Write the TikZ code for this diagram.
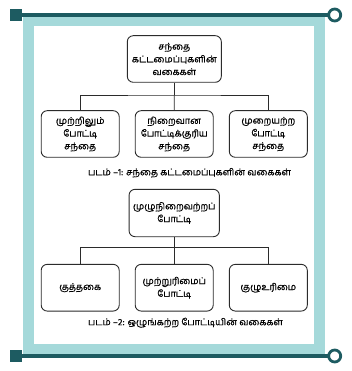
\documentclass[tikz,border=0pt]{standalone}
\usepackage{fontspec}
\newfontfamily\tamil[Script=Tamil, FakeBold=0.6]{Hind Madurai}
\definecolor{frameteal}{HTML}{A5D9DA}
\definecolor{darkteal}{HTML}{1D5B61}
\definecolor{boxline}{HTML}{2B2B2B}
\begin{document}
\begin{tikzpicture}[x=1pt,y=-1pt,
  box/.style={draw=boxline, line width=0.9pt, rounded corners=6pt, fill=white,
    align=center, inner sep=1pt, font=\tamil\fontsize{9.2}{12.7}\selectfont, text=black},
  capt/.style={font=\tamil\fontsize{9.2}{10}\selectfont, text=black, inner sep=0pt},
  conn/.style={draw=boxline, line width=0.7pt},
  rule/.style={draw=darkteal, line width=3.4pt},
  ring/.style={draw=darkteal, line width=2.8pt, fill=white}]
\useasboundingbox (0,0) rectangle (351,371);
% frame
\fill[frameteal] (23,17) rectangle (325,354);
\fill[white] (34,26) rectangle (314,344);
% top and bottom rules
\draw[rule] (16,15) -- (330,15);
\fill[darkteal] (10,9) rectangle (22,21);
\draw[ring] (334.7,15) circle (6);
\draw[rule] (16,356) -- (330,356);
\fill[darkteal] (10,350) rectangle (22,362);
\draw[ring] (334.7,356) circle (6);
% chart 1
\node[box, minimum width=94pt, minimum height=46.6pt] (t1) at (174.3,59) {சந்தை\\கட்டமைப்புகளின்\\வகைகள்};
\node[box, minimum width=78pt, minimum height=46.6pt] (a1) at (80.2,134) {முற்றிலும்\\போட்டி\\சந்தை};
\node[box, minimum width=78pt, minimum height=46.6pt] (a2) at (174.2,134) {நிறைவான\\போட்டிக்குரிய\\சந்தை};
\node[box, minimum width=78pt, minimum height=46.6pt] (a3) at (268.3,134) {முறையற்ற\\போட்டி\\சந்தை};
\node[capt] (c1) at (189.5,172.7) {படம் –1: சந்தை கட்டமைப்புகளின் வகைகள்};
\coordinate (j1) at (174.3,95);
\draw[conn] (t1.south) -- (j1);
\draw[conn] (a1.north) |- (j1) -| (a3.north);
\draw[conn] (j1) -- (a2.north);
% chart 2
\node[box, minimum width=90.3pt, minimum height=47.4pt] (t2) at (174.2,213) {முழுநிறைவற்றப்\\போட்டி};
\node[box, minimum width=78pt, minimum height=46.7pt] (b1) at (80.2,287.7) {குத்தகை};
\node[box, minimum width=78pt, minimum height=46.7pt] (b2) at (174.2,287.7) {முற்றுரிமைப்\\போட்டி};
\node[box, minimum width=78pt, minimum height=46.7pt] (b3) at (268.3,287.7) {குழுஉரிமை};
\node[capt] (c2) at (185.4,322.7) {படம் –2: ஒழுங்கற்ற போட்டியின் வகைகள்};
\coordinate (j2) at (174.2,247.7);
\draw[conn] (t2.south) -- (j2);
\draw[conn] (b1.north) |- (j2) -| (b3.north);
\draw[conn] (j2) -- (b2.north);
\end{tikzpicture}
\end{document}
